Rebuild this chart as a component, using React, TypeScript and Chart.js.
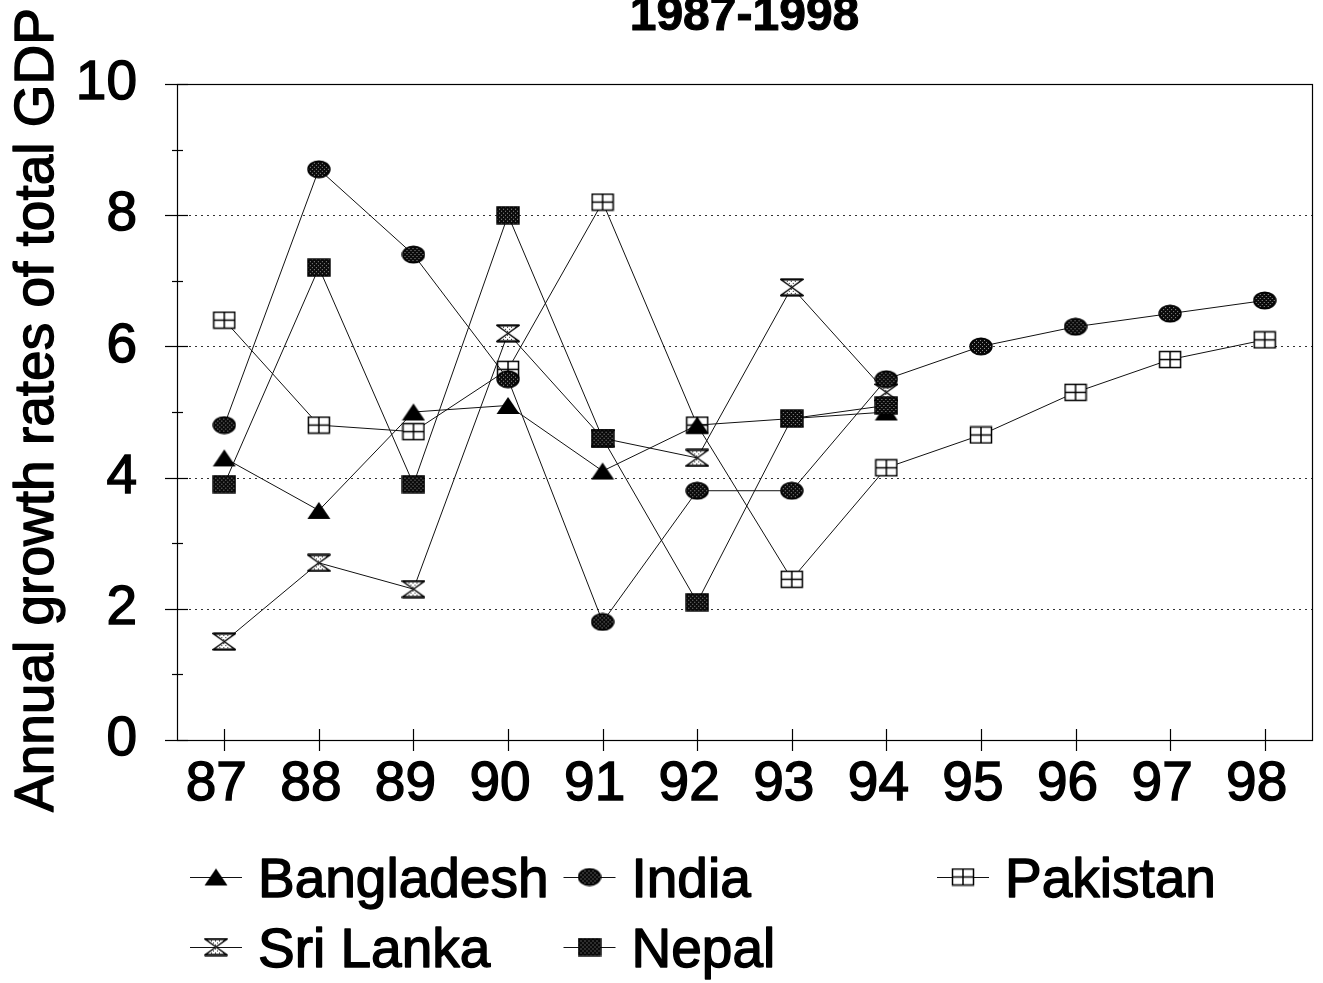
import React, { useEffect, useRef } from 'react';
import { Chart, registerables } from 'chart.js';

Chart.register(...registerables);

const years = ['87', '88', '89', '90', '91', '92', '93', '94', '95', '96', '97', '98'];
const bangladesh = [4.3, 3.5, 5.0, 5.1, 4.1, 4.8, 4.9, 5.0, null, null, null, null];
const india = [4.8, 8.7, 7.4, 5.5, 1.8, 3.8, 3.8, 5.5, 6.0, 6.3, 6.5, 6.7];
const pakistan = [6.4, 4.8, 4.7, 5.65, 8.2, 4.8, 2.45, 4.15, 4.65, 5.3, 5.8, 6.1];
const sriLanka = [1.5, 2.7, 2.3, 6.2, 4.6, 4.3, 6.9, 5.3, null, null, null, null];
const nepal = [3.9, 7.2, 3.9, 8.0, 4.6, 2.1, 4.9, 5.1, null, null, null, null];
const seriesNames = ['Bangladesh', 'India', 'Pakistan', 'Sri Lanka', 'Nepal'];
const yTitle = 'Annual growth rates of total GDP';
const chartTitle = '1987-1998';
const gridValues = [2, 4, 6, 8];

const FONT = '"Liberation Sans", Arial, Helvetica, sans-serif';

function dotPattern(ctx: CanvasRenderingContext2D, bg: string, fg: string) {
  const c = document.createElement('canvas');
  c.width = 4;
  c.height = 4;
  const p = c.getContext('2d')!;
  p.fillStyle = bg;
  p.fillRect(0, 0, 4, 4);
  p.fillStyle = fg;
  p.fillRect(1, 1, 1, 1);
  p.fillRect(3, 3, 1, 1);
  return ctx.createPattern(c, 'repeat')!;
}

function makeMarker(kind: string): HTMLCanvasElement {
  const c = document.createElement('canvas');
  c.width = 24;
  c.height = 19;
  const ctx = c.getContext('2d')!;
  ctx.strokeStyle = '#000';
  ctx.lineWidth = 1.4;
  if (kind === 'triangle') {
    ctx.beginPath();
    ctx.moveTo(12, 1);
    ctx.lineTo(23.5, 18);
    ctx.lineTo(0.5, 18);
    ctx.closePath();
    ctx.fillStyle = '#000';
    ctx.fill();
  } else if (kind === 'ellipse') {
    ctx.beginPath();
    ctx.ellipse(12, 9.5, 11, 8.3, 0, 0, Math.PI * 2);
    ctx.fillStyle = dotPattern(ctx, '#0a0a0a', '#999');
    ctx.fill();
    ctx.stroke();
  } else if (kind === 'crossRect') {
    ctx.fillStyle = '#fff';
    ctx.fillRect(1.5, 1.5, 21, 16);
    ctx.lineWidth = 1.5;
    ctx.strokeRect(1.5, 1.5, 21, 16);
    ctx.beginPath();
    ctx.moveTo(12, 1.5);
    ctx.lineTo(12, 17.5);
    ctx.moveTo(1.5, 9.5);
    ctx.lineTo(22.5, 9.5);
    ctx.stroke();
  } else if (kind === 'hourglass') {
    ctx.beginPath();
    ctx.moveTo(1, 1.5);
    ctx.lineTo(23, 1.5);
    ctx.lineTo(12, 9.5);
    ctx.closePath();
    ctx.moveTo(12, 9.5);
    ctx.lineTo(23, 17.5);
    ctx.lineTo(1, 17.5);
    ctx.closePath();
    ctx.fillStyle = dotPattern(ctx, '#fff', '#222');
    ctx.fill();
    ctx.stroke();
    ctx.lineWidth = 2.2;
    ctx.beginPath();
    ctx.moveTo(1, 1.5);
    ctx.lineTo(23, 1.5);
    ctx.moveTo(1, 17.5);
    ctx.lineTo(23, 17.5);
    ctx.stroke();
  } else {
    ctx.fillStyle = dotPattern(ctx, '#0a0a0a', '#999');
    ctx.fillRect(1, 1, 22, 17);
    ctx.strokeRect(1, 1, 22, 17);
  }
  return c;
}

function thickText(ctx: CanvasRenderingContext2D, text: string, x: number, y: number, w: number) {
  ctx.fillText(text, x, y);
  ctx.lineWidth = w;
  ctx.strokeStyle = '#000';
  ctx.lineJoin = 'round';
  ctx.strokeText(text, x, y);
}

const decorPlugin = {
  id: 'decor',
  beforeDatasetsDraw(chart: any) {
    const { ctx, chartArea: ca, scales } = chart;
    const y = scales.y;
    const x = scales.x;
    ctx.save();
    ctx.strokeStyle = '#333';
    ctx.lineWidth = 1;
    ctx.setLineDash([2, 4]);
    gridValues.forEach((v) => {
      const py = Math.round(y.getPixelForValue(v)) + 0.5;
      ctx.beginPath();
      ctx.moveTo(ca.left, py);
      ctx.lineTo(ca.right, py);
      ctx.stroke();
    });
    ctx.setLineDash([]);
    ctx.strokeStyle = '#000';
    ctx.lineWidth = 1.2;
    ctx.strokeRect(Math.round(ca.left) + 0.5, Math.round(ca.top) + 0.5, Math.round(ca.right - ca.left), Math.round(ca.bottom - ca.top));
    for (let v = 0; v <= 10; v++) {
      const py = Math.round(y.getPixelForValue(v)) + 0.5;
      const major = v % 2 === 0;
      ctx.beginPath();
      ctx.moveTo(ca.left - (major ? 12 : 5), py);
      ctx.lineTo(ca.left + (major ? 11 : 6), py);
      ctx.stroke();
    }
    years.forEach((_, i) => {
      const px = Math.round(x.getPixelForTick(i)) + 0.5;
      ctx.beginPath();
      ctx.moveTo(px, ca.bottom - 11);
      ctx.lineTo(px, ca.bottom + 11);
      ctx.stroke();
    });
    ctx.restore();
  },
  afterDraw(chart: any) {
    const { ctx, chartArea: ca } = chart;
    ctx.save();
    ctx.fillStyle = '#000';
    ctx.font = `bold 48px ${FONT}`;
    ctx.textAlign = 'center';
    ctx.textBaseline = 'alphabetic';
    thickText(ctx, chartTitle, (ca.left + ca.right) / 2, 30, 1);
    ctx.save();
    ctx.translate(53, (ca.top + ca.bottom) / 2 - 2);
    ctx.rotate(-Math.PI / 2);
    ctx.font = `55px ${FONT}`;
    thickText(ctx, yTitle, 0, 0, 1.4);
    ctx.restore();
    const colW = 373.5;
    const x0 = 190;
    const y0 = 877;
    const rowH = 70;
    ctx.font = `55px ${FONT}`;
    ctx.textAlign = 'left';
    chart.data.datasets.forEach((ds: any, i: number) => {
      const col = i % 3;
      const row = Math.floor(i / 3);
      const lx = x0 + col * colW;
      const ly = y0 + row * rowH;
      ctx.strokeStyle = '#111';
      ctx.lineWidth = 1.2;
      ctx.beginPath();
      ctx.moveTo(lx, ly + 0.5);
      ctx.lineTo(lx + 52, ly + 0.5);
      ctx.stroke();
      const img = ds.pointStyle as HTMLCanvasElement;
      ctx.drawImage(img, lx + 26 - img.width / 2, ly - img.height / 2);
      thickText(ctx, ds.label, lx + 68, ly + 20, 1.4);
    });
    ctx.restore();
  },
};

export default function App() {
  const ref = useRef<HTMLCanvasElement>(null);
  useEffect(() => {
    const markers = ['triangle', 'ellipse', 'crossRect', 'hourglass', 'square'].map(makeMarker);
    const series = [bangladesh, india, pakistan, sriLanka, nepal];
    const orders = [2, 1, 4, 3, 0];
    const chart = new Chart(ref.current!, {
      type: 'line',
      data: {
        labels: years,
        datasets: series.map((d, i) => ({
          label: seriesNames[i],
          data: d,
          borderColor: '#111',
          borderWidth: 1,
          pointStyle: markers[i],
          pointRadius: 10,
          pointHoverRadius: 10,
          fill: false,
          tension: 0,
          spanGaps: false,
          order: orders[i],
        })),
      },
      options: {
        responsive: false,
        animation: false,
        devicePixelRatio: 1,
        layout: { padding: { top: 84, right: 8, bottom: 163, left: 0 } },
        plugins: {
          legend: { display: false },
          title: { display: false },
          tooltip: { enabled: false },
        },
        scales: {
          x: {
            type: 'category',
            offset: true,
            grid: { display: false },
            border: { display: false },
            ticks: {
              color: '#000',
              font: { family: FONT, size: 55 },
              padding: 4,
              labelOffset: -8,
              maxRotation: 0,
              autoSkip: false,
              textStrokeColor: '#000',
              textStrokeWidth: 1.4,
            },
            afterFit: (s: any) => {
              s.height = 80;
            },
          },
          y: {
            min: 0,
            max: 10,
            grid: { display: false, drawTicks: false },
            border: { display: false },
            ticks: {
              stepSize: 2,
              color: '#000',
              font: { family: FONT, size: 55 },
              padding: 40,
              textStrokeColor: '#000',
              textStrokeWidth: 1.4,
            },
            afterFit: (s: any) => {
              s.width = 177;
            },
          },
        },
      },
      plugins: [decorPlugin],
    } as any);
    return () => chart.destroy();
  }, []);
  return (
    <div style={{ position: 'absolute', left: 0, top: 0, width: 1323, height: 983, background: '#fff' }}>
      <canvas ref={ref} width={1323} height={983} style={{ display: 'block' }} />
    </div>
  );
}
